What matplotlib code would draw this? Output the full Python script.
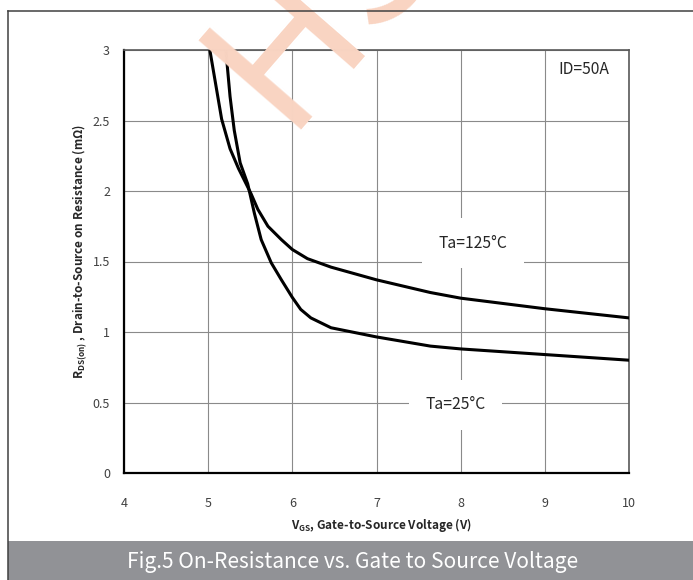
import matplotlib
matplotlib.use('Agg')
import matplotlib.pyplot as plt
from matplotlib.patches import Rectangle
from matplotlib.lines import Line2D

plt.rcParams['font.family'] = ['Noto Sans CJK SC', 'DejaVu Sans']
plt.rcParams['mathtext.default'] = 'regular'

# --- data ---
vgs_125 = [5.02, 5.08, 5.16, 5.26, 5.36, 5.46, 5.51, 5.59, 5.71, 5.87, 6.0,
           6.18, 6.46, 7.0, 7.64, 8.0, 9.0, 10.0]
rds_125 = [3.0, 2.79, 2.51, 2.30, 2.16, 2.04, 1.98, 1.87, 1.75, 1.655, 1.585,
           1.52, 1.46, 1.37, 1.28, 1.24, 1.165, 1.10]

vgs_25 = [5.21, 5.26, 5.31, 5.38, 5.47, 5.55, 5.63, 5.75, 5.87, 6.0, 6.10,
          6.22, 6.46, 7.0, 7.64, 8.0, 9.0, 10.0]
rds_25 = [3.0, 2.67, 2.43, 2.20, 2.05, 1.84, 1.655, 1.49, 1.37, 1.245, 1.16,
          1.10, 1.03, 0.965, 0.90, 0.88, 0.84, 0.80]

x_ticks = [4, 5, 6, 7, 8, 9, 10]
y_ticks = [0, 0.5, 1, 1.5, 2, 2.5, 3]
y_tick_labels = ['0', '0.5', '1', '1.5', '2', '2.5', '3']

W, H = 693, 580
fig = plt.figure(figsize=(W / 100, H / 100), dpi=100)
fig.patch.set_facecolor('white')

# watermark (mostly outside the picture)
fig.text(283 / W, 1 - 130 / H, 'HS', fontsize=133, color='#f9d4c2',
         rotation=49, rotation_mode='anchor', ha='left', va='baseline', zorder=0)

# outer frame + caption bar
fig.add_artist(Line2D([7.5 / W, 7.5 / W], [0, 1 - 11 / H], color='#404040', lw=1.1))
fig.add_artist(Line2D([7.5 / W, 1.0], [1 - 11 / H, 1 - 11 / H], color='#404040', lw=1.1))
fig.add_artist(Rectangle((8 / W, 0), 1, 39 / H, transform=fig.transFigure,
                         facecolor='#919296', edgecolor='none'))
fig.text(353 / W, 1 - 562 / H, 'Fig.5 On-Resistance vs. Gate to Source Voltage',
         color='white', fontsize=15.1, ha='center', va='center')

ax = fig.add_axes([124 / W, 1 - 473 / H, (629 - 124) / W, (473 - 50) / H])
ax.set_facecolor('none')

ax.plot(vgs_125, rds_125, color='black', lw=2.2, solid_joinstyle='round', zorder=3)
ax.plot(vgs_25, rds_25, color='black', lw=2.2, solid_joinstyle='round', zorder=3)

ax.set_xlim(4, 10)
ax.set_ylim(0, 3)
ax.set_xticks(x_ticks)
ax.set_yticks(y_ticks)
ax.set_yticklabels(y_tick_labels)
ax.grid(True, color='#8a8a8a', lw=0.8)
ax.tick_params(length=0, labelsize=9, labelcolor='#404040')
ax.tick_params(axis='x', pad=17)
ax.tick_params(axis='y', pad=10)

for s in ['left', 'bottom']:
    ax.spines[s].set_color('black')
    ax.spines[s].set_linewidth(1.6)
for s in ['top', 'right']:
    ax.spines[s].set_color('#595959')
    ax.spines[s].set_linewidth(1.2)

ax.set_xlabel(r'V$_{GS}$, Gate-to-Source Voltage (V)', fontsize=8.5,
              fontweight='bold', color='#262626')
ax.set_ylabel(r'R$_{DS(on)}$ , Drain-to-Source on Resistance (m$\Omega$)', fontsize=8.5,
              fontweight='bold', color='#262626')
ax.xaxis.set_label_coords(0.51, -0.102)
ax.yaxis.set_label_coords(-0.07, 0.525)

box = dict(boxstyle='square,pad=1.05', fc='white', ec='none')
ax.text(9.16, 2.86, 'ID=50A', fontsize=11.3, color='#262626', ha='left', va='center')
ax.text(8.15, 1.63, 'Ta=125°C', fontsize=11.3, color='#262626', ha='center',
        va='center', bbox=box, zorder=2)
ax.text(7.94, 0.485, 'Ta=25°C', fontsize=11.3, color='#262626', ha='center',
        va='center', bbox=box, zorder=2)

fig.savefig('out.png', dpi=100)
